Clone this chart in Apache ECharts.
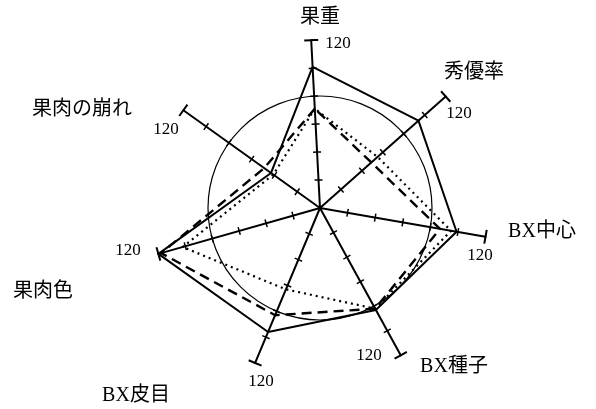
<!DOCTYPE html>
<html>
<head>
<meta charset="utf-8">
<style>
  html, body { margin: 0; padding: 0; background: #fff; }
  #chart { width: 596px; height: 409px; }
</style>
<script src="https://cdn.jsdelivr.net/npm/echarts@6/dist/echarts.min.js"></script>
</head>
<body>
<div id="chart"></div>
<script>
  // indicators, counter-clockwise from the top
  const categories = ['果重', '果肉の崩れ', '果肉色', 'BX皮目', 'BX種子', 'BX中心', '秀優率'];
  const axisMax = 120;
  const refCircle = 80;
  const tickValues = [20, 40, 60, 80, 100];
  const solidValues = [101, 43, 120, 96, 83, 99, 94];
  const dashedValues = [71, 49, 118, 83, 82, 87, 49];
  const dottedValues = [71, 41, 102, 63, 82, 95, 55];

  // text anchors (centre of each label)
  const namePos = [[320, 18], [82, 110], [43, 292], [136, 396], [454, 367], [542, 232], [474, 73]];
  const maxPos = [[338, 44], [166, 130], [128, 251], [261, 382], [369, 356], [480, 256], [459, 114]];

  const serif = '"Liberation Serif", "Noto Sans CJK JP"';
  const center = [320, 208];
  const radius = 168;
  const tickStyle = { color: '#000', width: 1.5 };
  const capStyle = { color: '#000', width: 2 };

  const chart = echarts.init(document.getElementById('chart'), null, { renderer: 'canvas' });

  // only the 80 ring is drawn
  const circleColors = tickValues.map(v => v === refCircle ? '#000' : 'rgba(0,0,0,0)');

  function baseRadar(extra) {
    return Object.assign({
      center: center,
      radius: radius,
      startAngle: 93,
      shape: 'circle',
      splitNumber: 6,
      indicator: categories.map(n => ({ name: n, min: 0, max: axisMax })),
      axisName: { show: false },
      splitArea: { show: false },
      splitLine: { show: false },
      axisLine: { show: false },
      axisLabel: { show: false }
    }, extra);
  }

  const graphics = [];
  categories.forEach((n, i) => {
    graphics.push({
      type: 'text',
      style: {
        text: n, x: namePos[i][0], y: namePos[i][1],
        align: 'center', verticalAlign: 'middle',
        font: '20px ' + serif, fill: '#000'
      }
    });
    graphics.push({
      type: 'text',
      style: {
        text: String(axisMax), x: maxPos[i][0], y: maxPos[i][1],
        align: 'center', verticalAlign: 'middle',
        font: '17px ' + serif, fill: '#000'
      }
    });
  });

  chart.setOption({
    backgroundColor: '#fff',
    animation: false,
    radar: [
      baseRadar({
        axisLine: { show: true, lineStyle: { color: '#000', width: 2 } },
        splitLine: { show: true, lineStyle: { color: circleColors, width: 1.2 } },
        axisTick: { show: true, length: 4, customValues: tickValues, lineStyle: tickStyle }
      }),
      // ticks on the other side of each axis
      baseRadar({ axisTick: { show: true, length: -4, customValues: tickValues, lineStyle: tickStyle } }),
      // end caps at 120
      baseRadar({ axisTick: { show: true, length: 7, customValues: [axisMax], lineStyle: capStyle } }),
      baseRadar({ axisTick: { show: true, length: -7, customValues: [axisMax], lineStyle: capStyle } })
    ],
    series: [{
      type: 'radar',
      radarIndex: 0,
      symbol: 'none',
      silent: true,
      data: [
        { value: solidValues, lineStyle: { color: '#000', width: 2, type: 'solid' } },
        { value: dashedValues, lineStyle: { color: '#000', width: 2.4, type: [10, 6] } },
        { value: dottedValues, lineStyle: { color: '#000', width: 2.2, type: [2, 4] } }
      ]
    }],
    graphic: graphics
  });
</script>
</body>
</html>
